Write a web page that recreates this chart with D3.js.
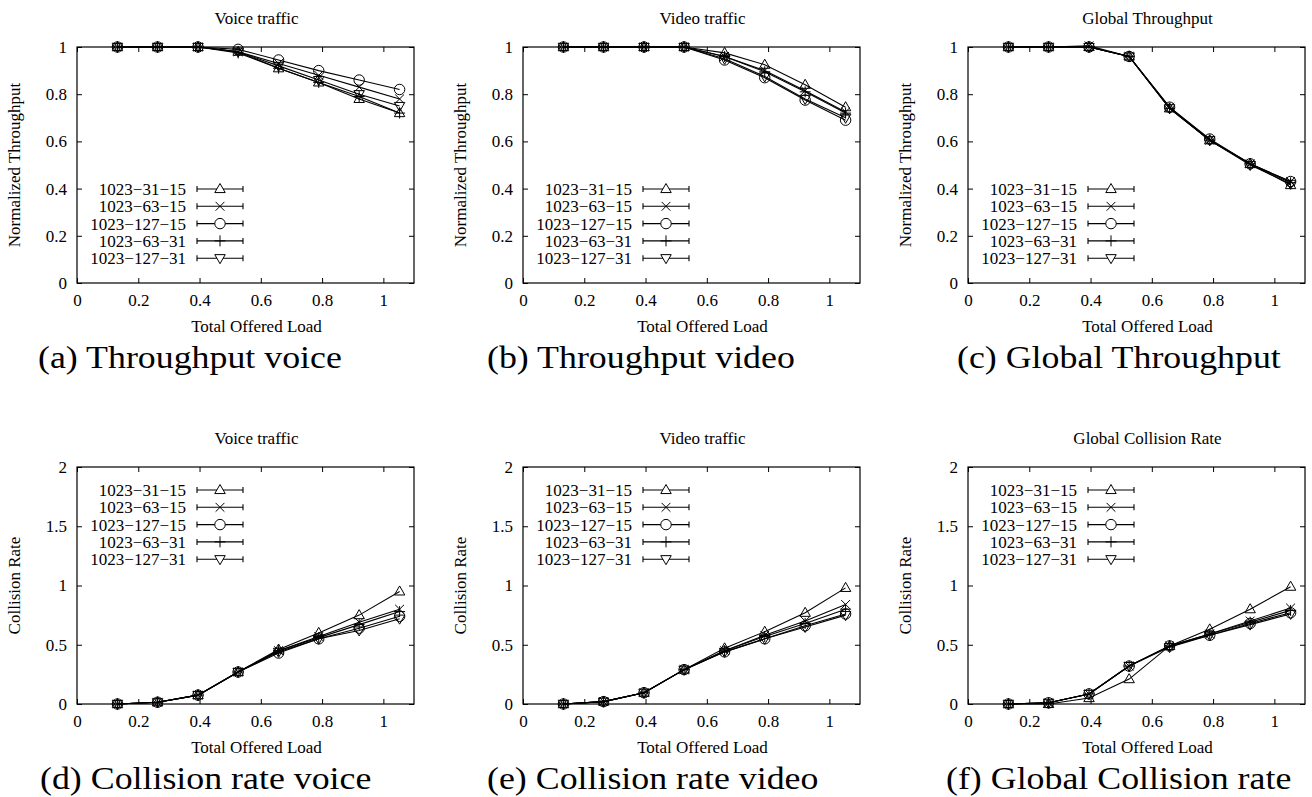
<!DOCTYPE html>
<html>
<head>
<meta charset="utf-8">
<script src="https://cdn.jsdelivr.net/npm/d3@7"></script>
<style>
  body { margin: 0; background: #fff; }
  text { font-family: "Liberation Serif", "Times New Roman", serif; fill: #000; }
</style>
</head>
<body>
<svg id="fig" width="1312" height="797"></svg>
<script>
// offered load on the x axis (same for every panel)
var load = [0.132, 0.263, 0.395, 0.526, 0.658, 0.789, 0.921, 1.053];
var seriesNames = ["1023\u221231\u221215", "1023\u221263\u221215", "1023\u2212127\u221215", "1023\u221263\u221231", "1023\u2212127\u221231"];
var markers = ["triUp", "cross", "circle", "plus", "triDown"];

// one row per series, in legend order
var voiceThroughput = [
  [1, 1, 1, 0.98, 0.91, 0.85, 0.78, 0.72],
  [1, 1, 1, 0.98, 0.93, 0.88, 0.83, 0.78],
  [1, 1, 1, 0.99, 0.945, 0.90, 0.86, 0.82],
  [1, 1, 1, 0.975, 0.91, 0.85, 0.79, 0.72],
  [1, 1, 1, 0.98, 0.92, 0.86, 0.80, 0.75]
];
var videoThroughput = [
  [1, 1, 1, 1, 0.975, 0.925, 0.84, 0.745],
  [1, 1, 1, 1, 0.96, 0.90, 0.815, 0.725],
  [1, 1, 1, 1, 0.945, 0.87, 0.775, 0.69],
  [1, 1, 1, 1, 0.96, 0.895, 0.81, 0.72],
  [1, 1, 1, 1, 0.95, 0.875, 0.78, 0.70]
];
var globalThroughput = [
  [1, 1, 1, 0.96, 0.74, 0.605, 0.505, 0.415],
  [1, 1, 1.005, 0.96, 0.745, 0.605, 0.505, 0.43],
  [1, 1, 1, 0.96, 0.745, 0.61, 0.505, 0.43],
  [1, 1, 1, 0.96, 0.74, 0.605, 0.505, 0.425],
  [1, 1, 1, 0.96, 0.74, 0.605, 0.50, 0.42]
];
var voiceCollision = [
  [0, 0.015, 0.075, 0.27, 0.46, 0.60, 0.75, 0.95],
  [0, 0.015, 0.075, 0.27, 0.45, 0.57, 0.69, 0.80],
  [0, 0.015, 0.075, 0.27, 0.43, 0.55, 0.64, 0.74],
  [0, 0.015, 0.075, 0.27, 0.45, 0.56, 0.67, 0.78],
  [0, 0.015, 0.075, 0.27, 0.44, 0.55, 0.62, 0.72]
];
var videoCollision = [
  [0, 0.02, 0.095, 0.29, 0.47, 0.61, 0.77, 0.98],
  [0, 0.02, 0.095, 0.29, 0.45, 0.58, 0.70, 0.84],
  [0, 0.02, 0.095, 0.29, 0.44, 0.55, 0.66, 0.76],
  [0, 0.02, 0.095, 0.29, 0.45, 0.57, 0.68, 0.80],
  [0, 0.02, 0.095, 0.29, 0.44, 0.55, 0.65, 0.75]
];
var globalCollision = [
  [0, 0.0, 0.05, 0.21, 0.49, 0.63, 0.80, 0.99],
  [0, 0.01, 0.085, 0.32, 0.49, 0.59, 0.70, 0.81],
  [0, 0.01, 0.085, 0.32, 0.49, 0.58, 0.68, 0.77],
  [0, 0.01, 0.085, 0.32, 0.49, 0.59, 0.69, 0.79],
  [0, 0.01, 0.085, 0.32, 0.48, 0.58, 0.67, 0.76]
];

var xTicks = [0, 0.2, 0.4, 0.6, 0.8, 1];
var xTickLabels = ["0", "0.2", "0.4", "0.6", "0.8", "1"];
var thrTicks = [0, 0.2, 0.4, 0.6, 0.8, 1];
var thrTickLabels = ["0", "0.2", "0.4", "0.6", "0.8", "1"];
var colTicks = [0, 0.5, 1, 1.5, 2];
var colTickLabels = ["0", "0.5", "1", "1.5", "2"];

var titles = ["Voice traffic", "Video traffic", "Global Throughput", "Voice traffic", "Video traffic", "Global Collision Rate"];
var captions = ["(a) Throughput voice", "(b) Throughput video", "(c) Global Throughput",
                "(d) Collision rate voice", "(e) Collision rate video", "(f) Global Collision rate"];

var serif = '"Liberation Serif", "Times New Roman", serif';
var svg = d3.select("#fig");

var colX = [77, 523, 968];
var plotW = 337;

var panels = [
  {data: voiceThroughput, col: 0, row: 0, capX: 38},
  {data: videoThroughput, col: 1, row: 0, capX: 487},
  {data: globalThroughput, col: 2, row: 0, capX: 957},
  {data: voiceCollision, col: 0, row: 1, capX: 40},
  {data: videoCollision, col: 1, row: 1, capX: 487},
  {data: globalCollision, col: 2, row: 1, capX: 946}
];
var rows = [
  {top: 47, h: 236, max: 1, ticks: thrTicks, labels: thrTickLabels, ylab: "Normalized Throughput", legendY: 142},
  {top: 467, h: 237, max: 2, ticks: colTicks, labels: colTickLabels, ylab: "Collision Rate", legendY: 23}
];

function markerPath(type, s) {
  var p = d3.path();
  if (type == "triUp") {
    p.moveTo(0, -s); p.lineTo(s * 0.95, s * 0.65); p.lineTo(-s * 0.95, s * 0.65); p.closePath();
  } else if (type == "triDown") {
    p.moveTo(0, s); p.lineTo(s * 0.95, -s * 0.65); p.lineTo(-s * 0.95, -s * 0.65); p.closePath();
  } else if (type == "cross") {
    p.moveTo(-s * 0.8, -s * 0.8); p.lineTo(s * 0.8, s * 0.8);
    p.moveTo(-s * 0.8, s * 0.8); p.lineTo(s * 0.8, -s * 0.8);
  } else if (type == "plus") {
    p.moveTo(-s, 0); p.lineTo(s, 0); p.moveTo(0, -s); p.lineTo(0, s);
  } else {
    p.arc(0, 0, s * 0.95, 0, 2 * Math.PI);
  }
  return p.toString();
}

panels.forEach(function(pn, i) {
  var r = rows[pn.row];
  var left = colX[pn.col];
  var g = svg.append("g").attr("transform", "translate(" + left + "," + r.top + ")");

  var x = d3.scaleLinear().domain([0, 1.1]).range([0, plotW]);
  var y = d3.scaleLinear().domain([0, r.max]).range([r.h, 0]);

  // inward ticks on all four sides, labels on bottom/left only
  g.append("g").attr("transform", "translate(0," + r.h + ")")
    .call(d3.axisBottom(x).tickValues(xTicks).tickSize(-5).tickPadding(11)
      .tickFormat(function(d, k) { return xTickLabels[k]; }))
    .call(function(a) { a.select(".domain").remove(); });
  g.append("g")
    .call(d3.axisTop(x).tickValues(xTicks).tickSize(-5).tickFormat(""))
    .call(function(a) { a.select(".domain").remove(); });
  g.append("g")
    .call(d3.axisLeft(y).tickValues(r.ticks).tickSize(-5).tickPadding(10)
      .tickFormat(function(d, k) { return r.labels[k]; }))
    .call(function(a) { a.select(".domain").remove(); });
  g.append("g").attr("transform", "translate(" + plotW + ",0)")
    .call(d3.axisRight(y).tickValues(r.ticks).tickSize(-5).tickFormat(""))
    .call(function(a) { a.select(".domain").remove(); });
  g.selectAll(".tick line").attr("stroke", "#000");
  g.selectAll(".tick text").style("font-size", "17px").style("font-family", serif);

  g.append("rect").attr("width", plotW).attr("height", r.h)
    .attr("fill", "none").attr("stroke", "#000").attr("stroke-width", 1.2);

  g.append("text").attr("x", plotW / 2 + 11).attr("y", -23)
    .attr("text-anchor", "middle").style("font-size", "17px").text(titles[i]);
  g.append("text").attr("x", plotW / 2 + 11).attr("y", r.h + 49)
    .attr("text-anchor", "middle").style("font-size", "17px").text("Total Offered Load");
  g.append("text").attr("transform", "translate(-57," + (r.h / 2) + ") rotate(-90)")
    .attr("text-anchor", "middle").style("font-size", "17px").text(r.ylab);
  // subfigure caption, slightly wider than the plain font
  svg.append("text")
    .attr("transform", "translate(" + pn.capX + "," + (r.top + r.h + 85) + ") scale(1.12,1)")
    .style("font-size", "32px").text(captions[i]);

  var line = d3.line().x(function(d, k) { return x(load[k]); }).y(function(d) { return y(d); });

  pn.data.forEach(function(vals, s) {
    var sg = g.append("g");
    sg.append("path").attr("d", line(vals)).attr("fill", "none")
      .attr("stroke", "#000").attr("stroke-width", 1.1);
    sg.selectAll("path.pt").data(vals).enter().append("path").attr("class", "pt")
      .attr("transform", function(d, k) { return "translate(" + x(load[k]) + "," + y(d) + ")"; })
      .attr("d", markerPath(markers[s], 5.5))
      .attr("fill", "none").attr("stroke", "#000").attr("stroke-width", 1);

    // legend entry
    var ly = r.legendY + s * 17.3;
    var lg = g.append("g").attr("transform", "translate(0," + ly + ")");
    lg.append("text").attr("x", 109).attr("y", 6).attr("text-anchor", "end")
      .style("font-size", "17px").text(seriesNames[s]);
    lg.append("path").attr("d", "M120,0H166M120,-3V3M166,-3V3")
      .attr("stroke", "#000").attr("stroke-width", 1.1).attr("fill", "none");
    lg.append("path").attr("transform", "translate(143,0)")
      .attr("d", markerPath(markers[s], 5.5))
      .attr("fill", "#fff").attr("stroke", "#000").attr("stroke-width", 1);
  });
});
</script>
</body>
</html>
